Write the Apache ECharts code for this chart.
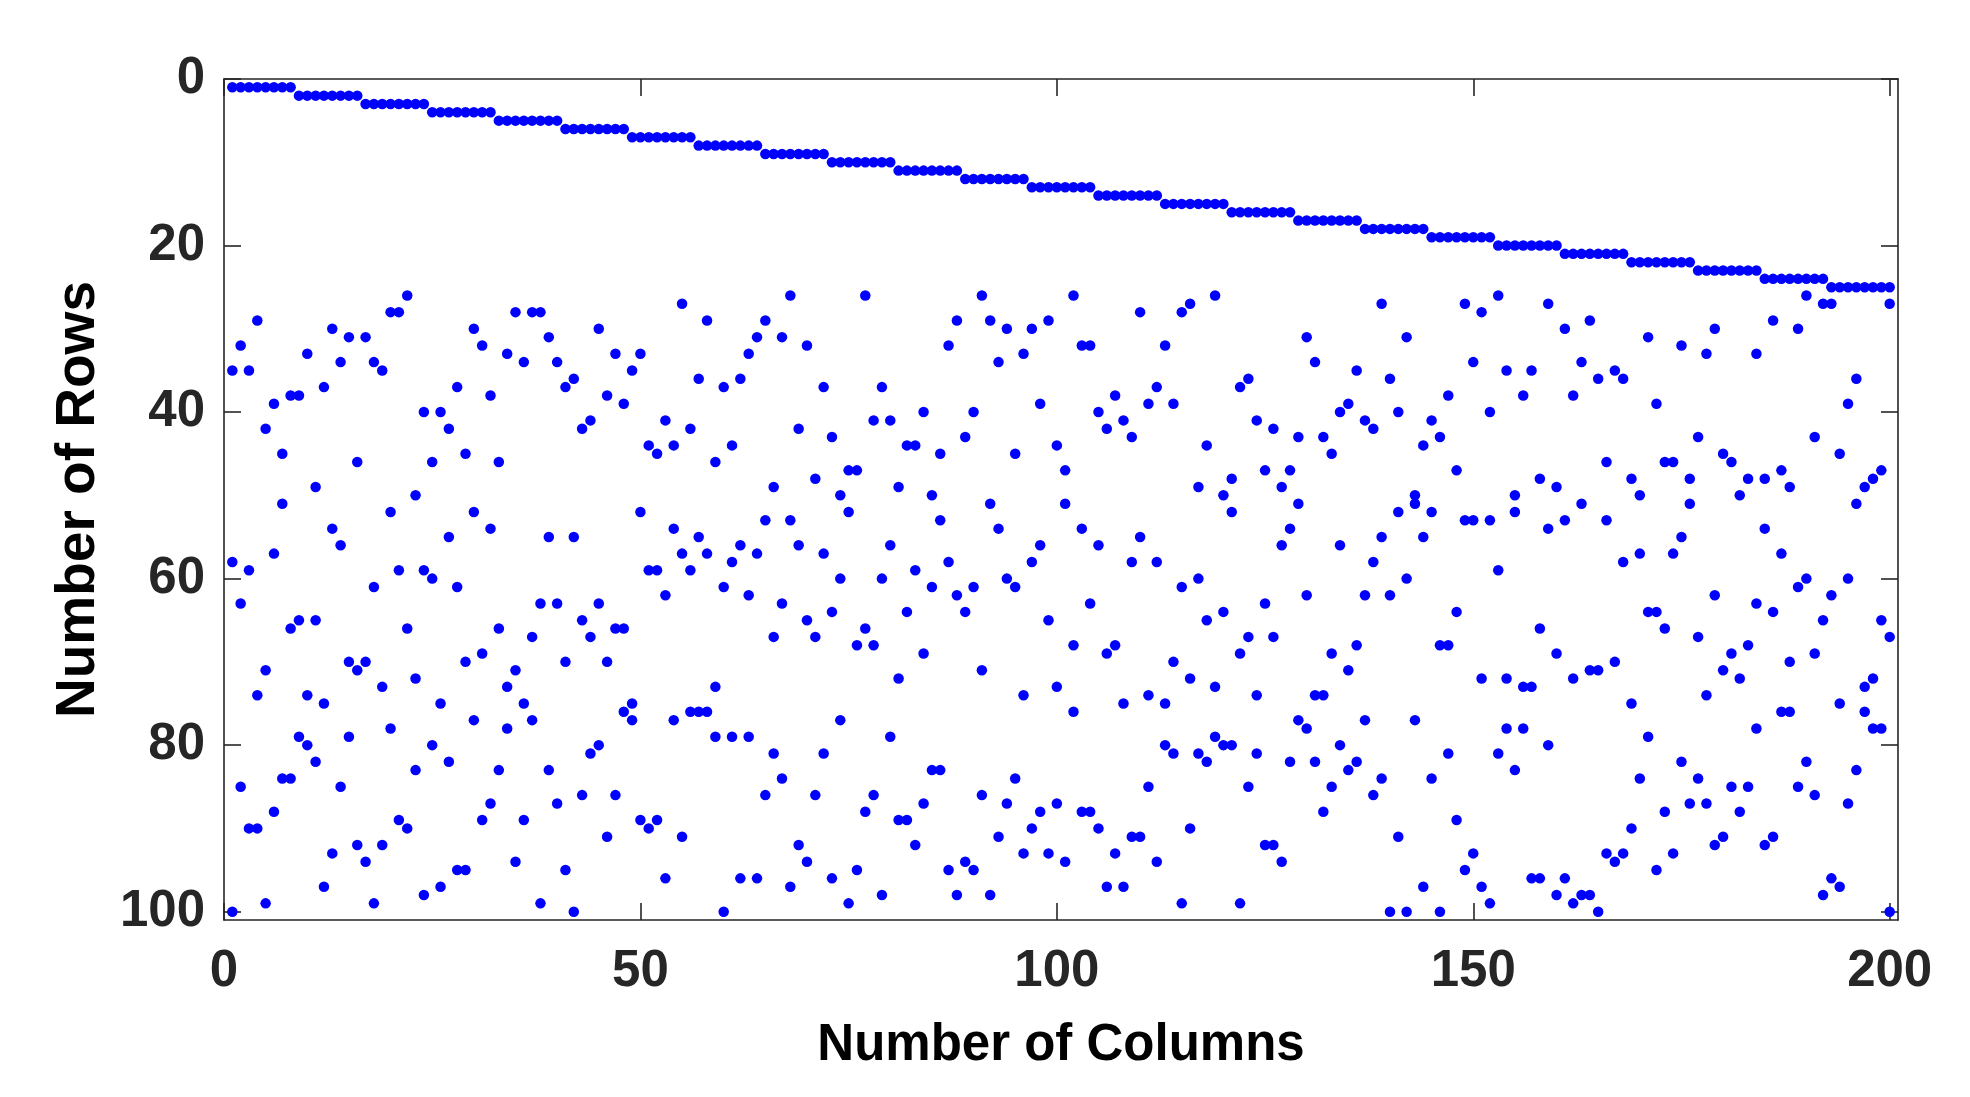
<!DOCTYPE html>
<html>
<head>
<meta charset="utf-8">
<script src="https://cdn.jsdelivr.net/npm/echarts@6/dist/echarts.min.js"></script>
<style>
html,body{margin:0;padding:0;background:#fff;}
#chart{width:1970px;height:1097px;}
</style>
</head>
<body>
<div id="chart"></div>
<script>
// Column index 1..200
var columns = [];
for (var i = 1; i <= 200; i++) columns.push(i);

// Row of the staircase nonzero in each column (rows 1..25)
var diagRows = [
1,1,1,1,1,1,1,1, 2,2,2,2,2,2,2,2, 3,3,3,3,3,3,3,3, 4,4,4,4,4,4,4,4, 5,5,5,5,5,5,5,5,
6,6,6,6,6,6,6,6, 7,7,7,7,7,7,7,7, 8,8,8,8,8,8,8,8, 9,9,9,9,9,9,9,9, 10,10,10,10,10,10,10,10,
11,11,11,11,11,11,11,11, 12,12,12,12,12,12,12,12, 13,13,13,13,13,13,13,13, 14,14,14,14,14,14,14,14, 15,15,15,15,15,15,15,15,
16,16,16,16,16,16,16,16, 17,17,17,17,17,17,17,17, 18,18,18,18,18,18,18,18, 19,19,19,19,19,19,19,19, 20,20,20,20,20,20,20,20,
21,21,21,21,21,21,21,21, 22,22,22,22,22,22,22,22, 23,23,23,23,23,23,23,23, 24,24,24,24,24,24,24,24, 25,25,25,25,25,25,25,25
];

// Scattered nonzeros per column, rows 26-50
var rowsBand1 = [
35,32,35,29,42,39,45,38,38,33, 49,37,30,34,31,46,31,34,35,28,
28,26,50,40,46,40,42,37,45,30, 32,38,46,33,28,34,28,28,31,34,
37,36,42,41,30,38,33,39,35,33, 44,45,41,44,27,42,36,29,46,37,
44,36,33,31,29,49,31,26,42,32, 48,37,43,50,47,47,26,41,37,41,
49,44,44,40,50,45,32,29,43,40, 26,29,34,30,45,33,30,39,29,44,
47,26,32,32,40,42,38,41,43,28, 39,37,32,39,28,27,49,44,26,50,
48,37,36,41,47,42,49,47,43,31, 34,43,45,40,39,35,41,42,27,36,
40,31,50,44,41,43,38,47,27,34, 28,40,26,35,50,38,35,48,27,49,
30,38,34,29,36,46,35,36,48,50, 31,39,46,46,32,48,43,33,30,45,
46,50,48,33,48,29,47,49,30,26, 43,27,27,45,39,36,49,48,47,27
];
// rows 51-75
var rowsBand2 = [
58,63,59,74,71,57,51,66,65,74, 65,75,54,56,70,71,70,61,73,52,
59,66,72,59,60,75,55,61,70,52, 69,54,66,73,71,75,67,63,55,63,
70,55,65,67,63,70,66,66,75,52, 59,59,62,54,57,59,55,57,73,61,
58,56,62,57,53,67,63,53,56,65, 67,57,64,60,52,68,66,68,60,56,
72,64,59,69,61,53,58,62,64,61, 71,51,54,60,61,74,58,56,65,73,
51,68,54,63,56,69,68,75,58,55, 74,58,75,70,61,72,60,65,73,64,
52,69,67,74,63,67,56,54,51,62, 74,74,69,56,71,68,62,58,55,62,
52,60,51,55,52,68,68,64,53,53, 72,53,59,72,52,73,73,66,54,69,
53,72,51,71,71,53,70,58,75,57, 64,64,66,57,55,51,67,74,62,71,
69,72,68,63,54,64,57,70,61,60, 69,65,62,75,60,51,73,72,65,67
];
// rows 76-100
var rowsBand3 = [
100,85,90,90,99,88,84,84,79,80, 82,97,93,85,79,92,94,99,92,78,
89,90,83,98,80,97,82,95,95,77, 89,87,83,78,94,89,77,99,83,87,
95,100,86,81,80,91,86,76,77,89, 90,89,96,77,91,76,76,76,79,100,
79,96,79,96,86,81,84,97,92,94, 86,81,96,77,99,95,88,86,98,79,
89,89,92,87,83,83,95,98,94,95, 86,98,91,87,84,93,90,88,93,87,
94,76,88,88,90,97,93,97,91,91, 85,94,80,81,99,90,81,82,79,80,
80,99,85,81,92,92,94,82,77,78, 82,88,85,80,83,82,77,86,84,100,
91,100,77,97,84,100,81,89,95,93, 97,99,81,78,83,78,96,96,80,98,
96,99,98,98,100,93,94,93,90,84, 79,95,88,93,82,87,84,87,92,91,
85,88,85,78,92,91,76,76,85,82, 86,98,96,97,87,83,76,78,78,100
];

var xTicks = [0, 50, 100, 150, 200];
var yTicks = [0, 20, 40, 60, 80, 100];
var xLimits = [0, 201];
var yLimits = [0, 101];
var xTitle = 'Number of Columns';
var yTitle = 'Number of Rows';

var points = [];
[diagRows, rowsBand1, rowsBand2, rowsBand3].forEach(function (arr) {
  for (var k = 0; k < columns.length; k++) points.push([columns[k], arr[k]]);
});

var FONT = '"Liberation Sans", Arial, Helvetica, sans-serif';
var INK = '#262626';
var tickFont = 51;

function axisBase(pos, ticks, lim, showLabels, isY) {
  return {
    type: 'value',
    position: pos,
    min: lim[0], max: lim[1],
    inverse: !!isY,
    splitLine: { show: false },
    axisLine: { show: true, onZero: false, lineStyle: { color: INK, width: 1.6 } },
    axisTick: { show: true, inside: true, length: 17, customValues: ticks, lineStyle: { color: INK, width: 1.6 } },
    axisLabel: {
      show: showLabels, customValues: ticks,
      fontFamily: FONT, fontWeight: 'bold', fontSize: tickFont, color: INK,
      margin: isY ? 19 : 26
    }
  };
}

var xBottom = axisBase('bottom', xTicks, xLimits, true, false);
xBottom.name = xTitle;
xBottom.nameLocation = 'middle';
xBottom.nameGap = 100;
xBottom.nameTextStyle = { fontFamily: FONT, fontWeight: 'bold', fontSize: 51, color: '#000' };
var xTop = axisBase('top', xTicks, xLimits, false, false);

var yLeft = axisBase('left', yTicks, yLimits, true, true);
yLeft.name = yTitle;
yLeft.nameLocation = 'middle';
yLeft.nameGap = 118;
yLeft.nameRotate = 90;
yLeft.nameTextStyle = { fontFamily: FONT, fontWeight: 'bold', fontSize: 55, color: '#000' };
var yRight = axisBase('right', yTicks, yLimits, false, true);

var chart = echarts.init(document.getElementById('chart'), null, { renderer: 'canvas' });
chart.setOption({
  animation: false,
  backgroundColor: '#ffffff',
  grid: { left: 224, top: 79, width: 1674, height: 841, containLabel: false },
  xAxis: [xBottom, xTop],
  yAxis: [yLeft, yRight],
  series: [{
    type: 'scatter',
    xAxisIndex: 0, yAxisIndex: 0,
    data: points,
    symbol: 'circle',
    symbolSize: 10.5,
    itemStyle: { color: '#0000ff', opacity: 1 },
    silent: true
  }]
});
</script>
</body>
</html>
